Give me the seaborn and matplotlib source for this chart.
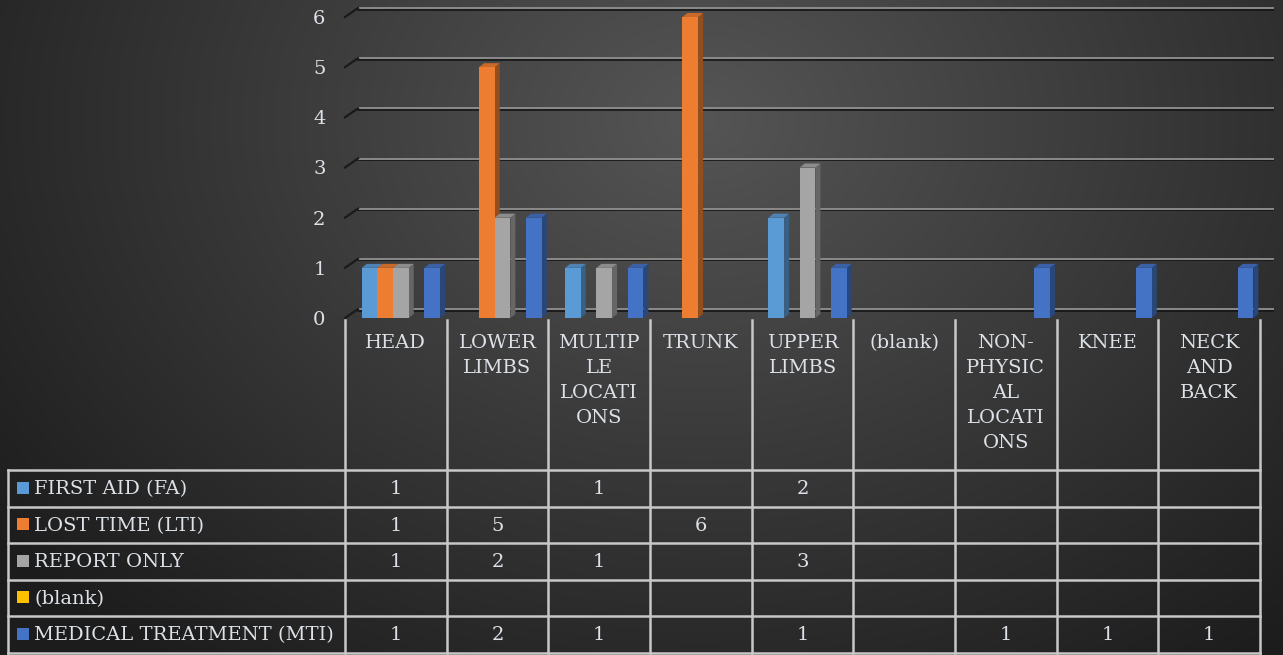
import numpy as np
import pandas as pd
import matplotlib
matplotlib.use("Agg")
import matplotlib.pyplot as plt
from matplotlib.patches import Polygon, Rectangle
from matplotlib.transforms import ScaledTranslation
import seaborn as sns

# ---------------- data ----------------
categories = ["HEAD", "LOWER LIMBS", "MULTIPLE LOCATIONS", "TRUNK", "UPPER LIMBS",
              "(blank)", "NON-PHYSICAL LOCATIONS", "KNEE", "NECK AND BACK"]
category_labels = ["HEAD", "LOWER\nLIMBS", "MULTIP\nLE\nLOCATI\nONS", "TRUNK", "UPPER\nLIMBS",
                   "(blank)", "NON-\nPHYSIC\nAL\nLOCATI\nONS", "KNEE", "NECK\nAND\nBACK"]
series_names = ["FIRST AID (FA)", "LOST TIME (LTI)", "REPORT ONLY", "(blank)", "MEDICAL TREATMENT (MTI)"]
first_aid = [1, None, 1, None, 2, None, None, None, None]
lost_time = [1, 5, None, 6, None, None, None, None, None]
report_only = [1, 2, 1, None, 3, None, None, None, None]
blank_series = [None] * 9
medical_treatment = [1, 2, 1, None, 1, None, 1, 1, 1]
series_values = [first_aid, lost_time, report_only, blank_series, medical_treatment]
y_ticks = [0, 1, 2, 3, 4, 5, 6]

colors = ["#5b9bd5", "#ed7d31", "#a5a5a5", "#ffc000", "#4472c4"]

rows = []
for s, vals in zip(series_names, series_values):
    for c, v in zip(categories, vals):
        rows.append({"category": c, "series": s, "value": np.nan if v is None else v})
df = pd.DataFrame(rows)

# ---------------- figure ----------------
W, H = 1283, 655
fig = plt.figure(figsize=(W / 100, H / 100), dpi=100)
FONT = "DejaVu Serif"
TXT = "#dde2e8"
FS = 14

# background radial gradient
bg = fig.add_axes([0, 0, 1, 1], zorder=0)
yy, xx = np.mgrid[0:H, 0:W]
d = np.sqrt((xx - 700) ** 2 + ((yy - 120) * 1.3) ** 2)
t = np.clip(d / 900, 0, 1)
c0 = np.array([0x55, 0x55, 0x55]) / 255
c1 = np.array([0x1c, 0x1c, 0x1c]) / 255
img = c0[None, None, :] * (1 - t[..., None]) + c1[None, None, :] * t[..., None]
bg.imshow(img, aspect="auto", extent=[0, W, H, 0])
bg.set_axis_off()

# plot axes
x_left, x_right = 345, 1260
y_zero, y_six = 318, 17
ax = fig.add_axes([x_left / W, (H - y_zero) / H, (x_right - x_left) / W, (y_zero - y_six) / H], zorder=2)
ax.set_facecolor("none")

sns.barplot(data=df, x="category", y="value", hue="series", order=categories,
            hue_order=series_names, palette=colors, width=0.77, ax=ax,
            legend=False, saturation=1, edgecolor="none", linewidth=0)

ax.set_xlim(-0.55, 8.45)
ax.set_ylim(0, 6)
ax.set_yticks(y_ticks)
ax.set_yticklabels([str(v) for v in y_ticks], fontsize=FS, color=TXT, family=FONT)
ax.tick_params(axis="y", length=0, pad=14)
ax.set_xticks([])
ax.set_xlabel("")
ax.set_ylabel("")
for sp in ax.spines.values():
    sp.set_visible(False)

# back-wall gridlines (offset for perspective)
off = ScaledTranslation(13 / 100, 9 / 100, fig.dpi_scale_trans)
shadow = ScaledTranslation(13 / 100, 7.5 / 100, fig.dpi_scale_trans)
for v in y_ticks:
    ax.plot([-0.55, 8.45], [v, v], color="#161616", lw=1.2, zorder=1,
            transform=ax.transData + shadow, clip_on=False)
    ax.plot([-0.55, 8.45], [v, v], color="#8a8a8a", lw=1.4, zorder=1.1,
            transform=ax.transData + off, clip_on=False)

# 3D faces on bars
dx_px, dy_px = 5, 4
col_px = (x_right - x_left) / 9.0
unit_px = (y_zero - y_six) / 6.0
ddx = dx_px / col_px
ddy = dy_px / unit_px
for p in list(ax.patches):
    h = p.get_height()
    if not np.isfinite(h) or h <= 0:
        continue
    x0 = p.get_x()
    x1 = x0 + p.get_width()
    base = np.array(p.get_facecolor()[:3])
    z = 3 + x0
    p.set_zorder(z + 0.002)
    side = Polygon([(x1, 0), (x1 + ddx, ddy), (x1 + ddx, h + ddy), (x1, h)],
                   closed=True, facecolor=base * 0.62, edgecolor="none", zorder=z)
    top = Polygon([(x0, h), (x0 + ddx, h + ddy), (x1 + ddx, h + ddy), (x1, h)],
                  closed=True, facecolor=np.clip(base * 0.85, 0, 1), edgecolor="none", zorder=z + 0.001)
    ax.add_patch(side)
    ax.add_patch(top)
    for q in (p, side, top):
        q.set_clip_on(False)

# ---------------- overlay: table ----------------
ov = fig.add_axes([0, 0, 1, 1], zorder=3)
ov.set_xlim(0, W)
ov.set_ylim(H, 0)
ov.set_axis_off()
ov.patch.set_alpha(0)

LINE = "#c8c8c8"
LW = 1.8
for v in y_ticks:
    yf = y_zero - v * unit_px
    ov.plot([x_left, x_left + 13], [yf, yf - 9], color="#1a1a1a", lw=1.6)

row_y = [470, 506.5, 543, 579.5, 616, 652.5]
for i in range(10):
    xv = x_left + i * col_px
    ov.plot([xv, xv], [320, row_y[-1]], color=LINE, lw=LW)
ov.plot([8, 8], [row_y[0], row_y[-1]], color=LINE, lw=LW)
for yv in row_y:
    ov.plot([8, x_right], [yv, yv], color=LINE, lw=LW)

# category labels
for i, lab in enumerate(category_labels):
    cx = x_left + (i + 0.5) * col_px
    ov.text(cx, 334, lab, ha="center", va="top", fontsize=FS, color=TXT, family=FONT,
            linespacing=1.5)

# row headers and values
for r, (name, vals) in enumerate(zip(series_names, series_values)):
    cy = (row_y[r] + row_y[r + 1]) / 2
    ov.add_patch(Rectangle((17, cy - 6.5), 12, 12, facecolor=colors[r], edgecolor="none"))
    ov.text(34, cy + 1, name, ha="left", va="center", fontsize=FS, color=TXT, family=FONT)
    for i, v in enumerate(vals):
        if v is None:
            continue
        cx = x_left + (i + 0.5) * col_px
        ov.text(cx, cy + 1, str(v), ha="center", va="center", fontsize=FS, color=TXT, family=FONT)

fig.savefig("out.png", dpi=100)
